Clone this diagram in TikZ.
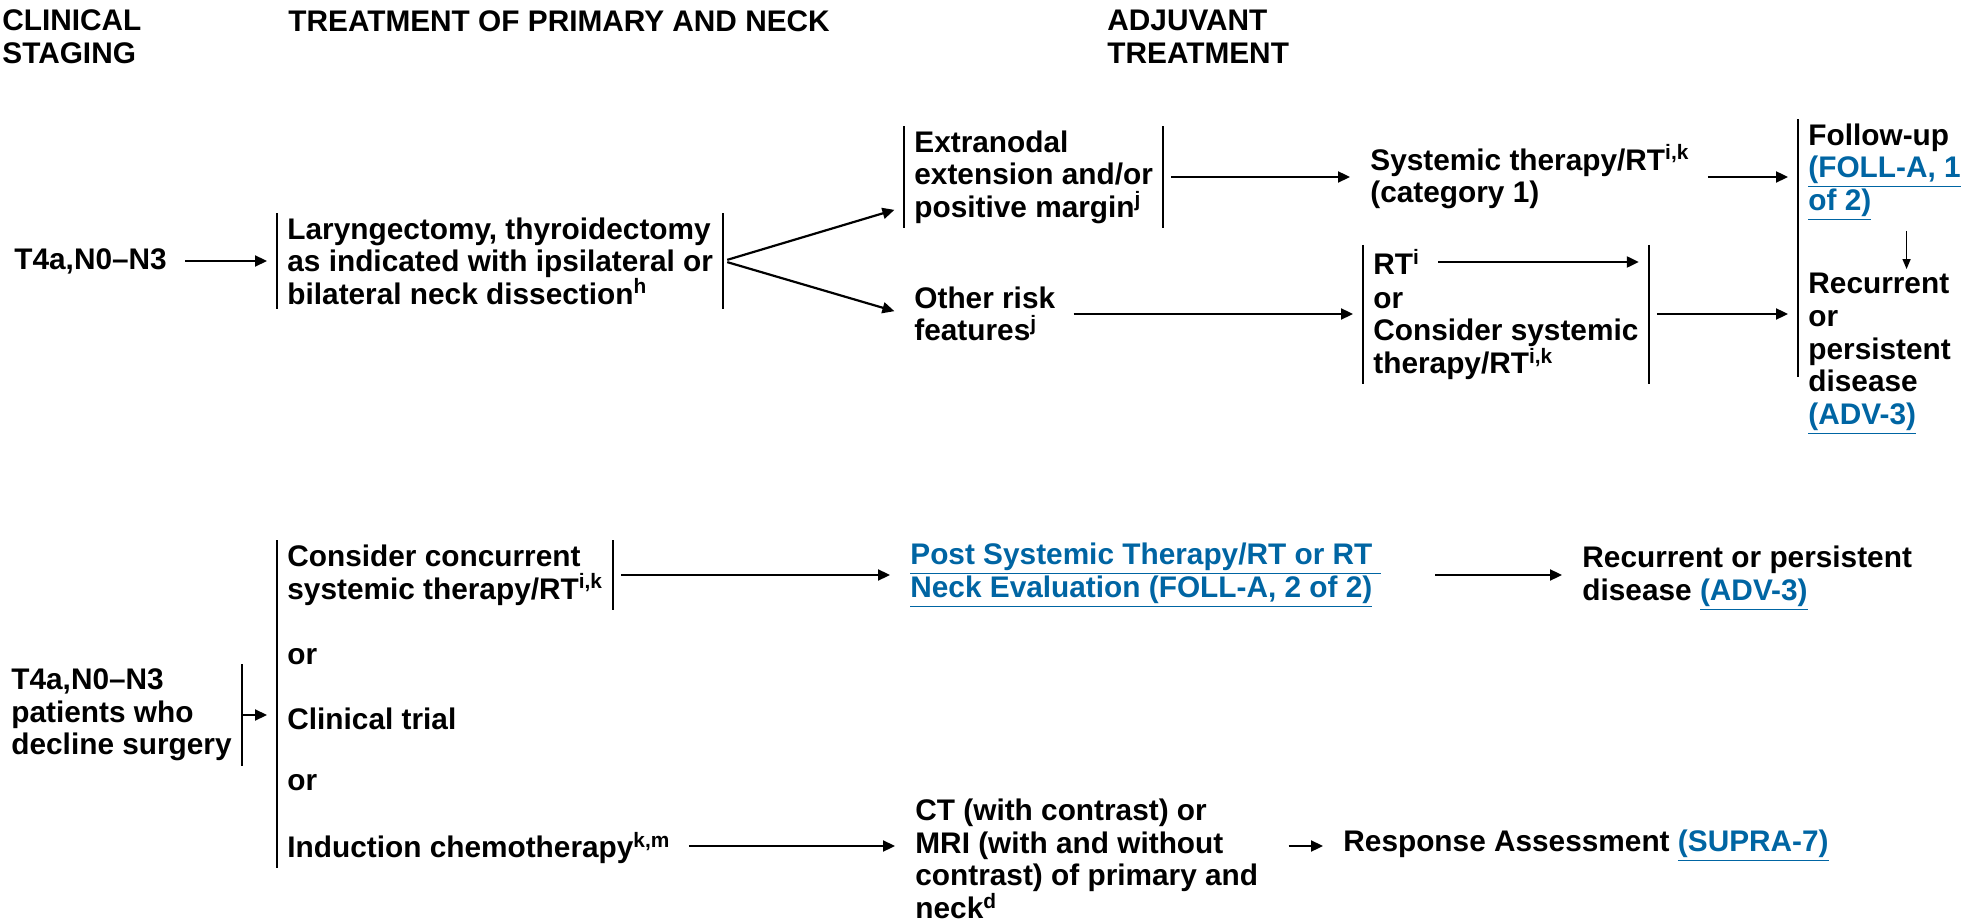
\documentclass[tikz,border=0pt]{standalone}
\usepackage{fontspec}
\setmainfont{Liberation Sans}
\usetikzlibrary{arrows.meta}
\definecolor{linkblue}{RGB}{0,101,163}
\newcommand{\lnk}[1]{{\color{linkblue}\underline{#1}}}

\begin{document}
\begin{tikzpicture}[
    x=0.5pt, y=-0.5pt,
    txt/.style={anchor=west, align=left, inner xsep=5pt, inner ysep=2pt, font=\fontsize{14.9}{16.3}\selectfont\bfseries},
    bar/.style={draw, line width=1pt},
    arr/.style={draw, line width=1.1pt, -{Triangle[length=6pt,width=5.5pt]}, shorten >=5pt, shorten <=4pt},
    thinarr/.style={draw, line width=0.7pt, -{Triangle[length=5pt,width=4pt]}, shorten <=3pt}
]
\useasboundingbox (0,0) rectangle (1963,924);

% column headings
\node[txt] (hstage) at (-8,37) {CLINICAL\\STAGING};
\node[txt] (hprim) at (278,21) {TREATMENT OF PRIMARY AND NECK};
\node[txt] (hadj) at (1097,37) {ADJUVANT\\TREATMENT};

% surgery branch
\node[txt] (t4a) at (4,261) {T4a,N0--N3};
\node[txt] (lary) at (277,261) {Laryngectomy, thyroidectomy\\as indicated with ipsilateral or\\bilateral neck dissection\textsuperscript{h}};
\node[txt] (ext) at (904,177) {Extranodal\\extension and/or\\positive margin\textsuperscript{j}};
\node[txt] (oth) at (904,314) {Other risk\\features\textsuperscript{j}};
\node[txt] (sys) at (1360,177) {Systemic therapy/RT\textsuperscript{i,k}\\(category 1)};
\node[txt] (rt1) at (1363,262) {RT\textsuperscript{i}};
\node[txt] (rt2) at (1363,336) {or\\Consider systemic\\therapy/RT\textsuperscript{i,k}};
\node[txt] (fu) at (1798,172) {Follow-up\\\lnk{(FOLL-A, 1}\\\lnk{of 2)}};
\node[txt] (rec) at (1798,354) {Recurrent\\or\\persistent\\disease\\\lnk{(ADV-3)}};

% non-surgical branch
\node[txt] (dec) at (1,715) {T4a,N0--N3\\patients who\\decline surgery};
\node[txt] (cc) at (277,575) {Consider concurrent\\systemic therapy/RT\textsuperscript{i,k}};
\node[txt] (or1) at (277,657) {or};
\node[txt] (ct) at (277,719) {Clinical trial};
\node[txt] (or2) at (277,783) {or};
\node[txt] (ind) at (277,848) {Induction chemotherapy\textsuperscript{k,m}};
\node[txt] (post) at (900,575) {\lnk{Post Systemic Therapy/RT or RT\ }\\\lnk{Neck Evaluation (FOLL-A, 2 of 2)}};
\node[txt] (rp) at (1572,578) {Recurrent or persistent\\disease \lnk{(ADV-3)}};
\node[txt] (img) at (905,859) {CT (with contrast) or\\MRI (with and without\\contrast) of primary and\\neck\textsuperscript{d}};
\node[txt] (resp) at (1333,846) {Response Assessment \lnk{(SUPRA-7)}};

% bars
\draw[bar] (lary.north west) -- (lary.south west);
\draw[bar] (lary.north east) -- (lary.south east);
\draw[bar] (ext.north west) -- (ext.south west);
\draw[bar] (ext.north east) -- (ext.south east);
\draw[bar] (rt1.north west) -- (rt2.south west);
\draw[bar] (rt2.east |- rt1.north) -- (rt2.south east);
\draw[bar] (fu.north west) -- (fu.west |- 0,377);
\draw[bar] (dec.north east) -- (dec.south east);
\draw[bar] (cc.north west) -- (ind.south west);
\draw[bar] (cc.north east) -- (cc.south east);

% connections
\draw[arr] (t4a.east) -- (lary.west);
\draw[arr, shorten <=2pt] (lary.east) -- ([yshift=-15pt]ext.west);
\draw[arr, shorten <=2pt] (lary.east) -- (oth.west);
\draw[arr] (ext.east) -- (sys.west);
\draw[arr] (sys.east) -- (sys.east -| fu.west);
\draw[arr] (oth.east) -- (oth.east -| rt2.west);
\draw[arr] (rt1.east) -- (rt1.east -| rt2.east);
\draw[arr] (rt2.east |- oth.east) -- (oth.east -| fu.west);
\draw[thinarr] ([xshift=11pt]fu.south) -- ([xshift=11pt]fu.south |- rec.north);
\draw[arr, shorten <=0pt] (dec.east) -- (dec.east -| ct.west);
\draw[arr] (cc.east) -- (cc.east -| post.west);
\draw[arr] ([xshift=18pt]post.east) -- (post.east -| rp.west);
\draw[arr] (ind.east |- 0,846) -- (img.west |- 0,846);
\draw[arr, shorten <=10pt] (img.east |- resp.west) -- (resp.west);
\end{tikzpicture}
\end{document}
